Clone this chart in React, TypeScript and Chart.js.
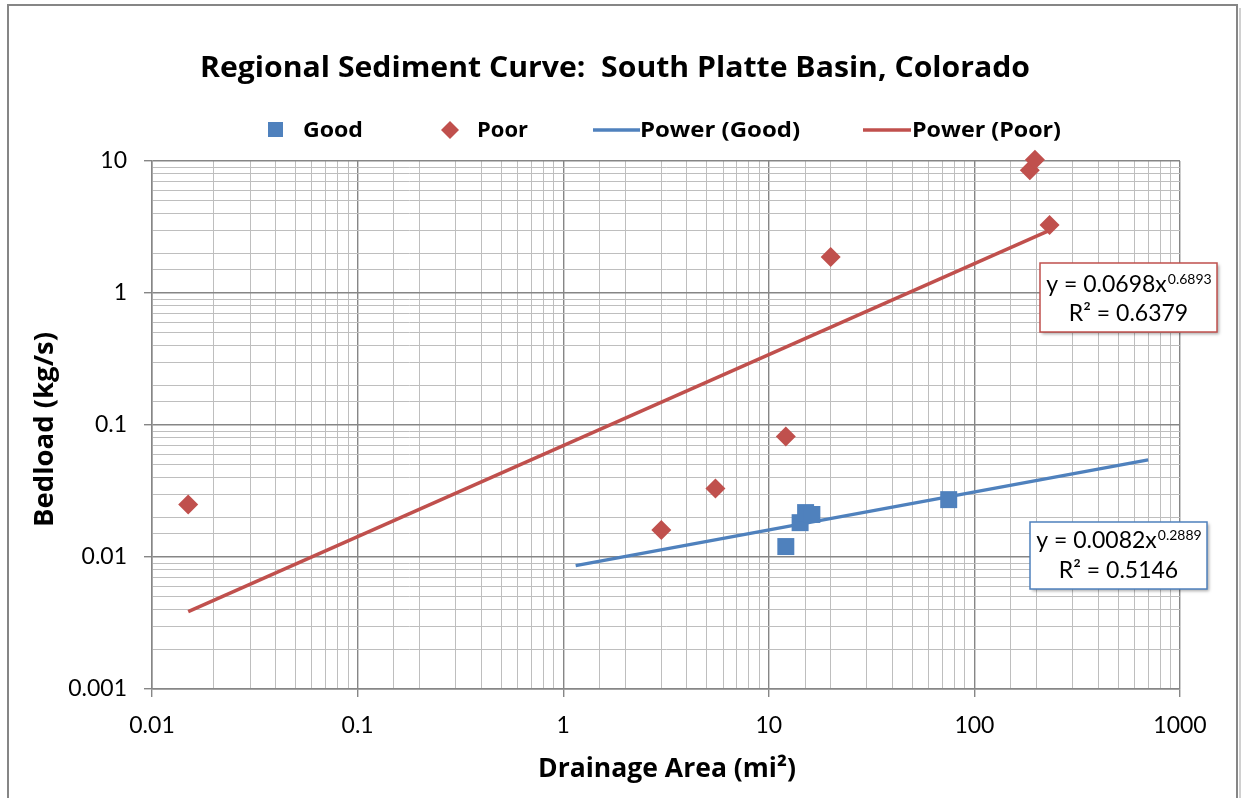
import React, { useEffect, useRef } from 'react';
import { Chart, registerables } from 'chart.js';

Chart.register(...registerables);

const FONT = 'Lato, "Open Sans", "DejaVu Sans", sans-serif';
const BOLD = '"Open Sans", Lato, "DejaVu Sans", sans-serif';

// ---- data ----
const goodX = [12.1, 14.2, 15.1, 16.2, 75];
const goodY = [0.012, 0.0182, 0.0217, 0.021, 0.0272];
const poorX = [0.015, 3.0, 5.5, 12.1, 20, 186, 197, 232];
const poorY = [0.025, 0.016, 0.033, 0.082, 1.87, 8.5, 10.2, 3.27];
const powerGoodX = [1.15, 700];
const powerGoodY = [0.0086, 0.0544];
const powerPoorX = [0.015, 232];
const powerPoorY = [0.00386, 2.98];

const xTickLabels = ['0.01', '0.1', '1', '10', '100', '1000'];
const yTickLabels = ['0.001', '0.01', '0.1', '1', '10'];
const legendLabels = ['Good', 'Poor', 'Power (Good)', 'Power (Poor)'];
const titleText = 'Regional Sediment Curve:  South Platte Basin, Colorado';
const xTitle = 'Drainage Area (mi\u00B2)';
const yTitle = 'Bedload (kg/s)';
const eqPoor = ['y = 0.0698x', '0.6893', 'R\u00B2 = 0.6379'];
const eqGood = ['y = 0.0082x', '0.2889', 'R\u00B2 = 0.5146'];

const BLUE = '#4F81BD';
const RED = '#C0504D';
const MAJOR = '#868686';
const MINOR = '#BEBEBE';

const isMajor = (v: number) => {
  const l = Math.log10(v);
  return Math.abs(l - Math.round(l)) < 1e-6;
};
const zip = (xs: number[], ys: number[]) => xs.map((x, i) => ({ x, y: ys[i] }));

// draw text stretched/squeezed gently to a target width
function fitText(ctx: CanvasRenderingContext2D, text: string, x: number, y: number, target: number, align: 'left' | 'center') {
  const w = ctx.measureText(text).width;
  let s = target / w;
  s = Math.max(0.85, Math.min(1.2, s));
  ctx.save();
  ctx.translate(x, y);
  ctx.scale(s, 1);
  ctx.textAlign = align;
  ctx.fillText(text, 0, 0);
  ctx.restore();
}

function drawEqBox(ctx: CanvasRenderingContext2D, x: number, y: number, w: number, h: number,
  color: string, eq: string[], b1: number, b2: number) {
  ctx.save();
  ctx.shadowColor = 'rgba(0,0,0,0.35)';
  ctx.shadowBlur = 3;
  ctx.shadowOffsetX = 2;
  ctx.shadowOffsetY = 2;
  ctx.fillStyle = '#fff';
  ctx.fillRect(x, y, w, h);
  ctx.restore();
  ctx.save();
  ctx.strokeStyle = color;
  ctx.lineWidth = 1.5;
  ctx.strokeRect(x, y, w, h);
  const cx = x + w / 2;
  ctx.fillStyle = '#000';
  ctx.textBaseline = 'alphabetic';
  ctx.textAlign = 'left';
  ctx.font = `23px ${FONT}`;
  const bw = ctx.measureText(eq[0]).width;
  ctx.font = `14px ${FONT}`;
  const ew = ctx.measureText(eq[1]).width;
  const start = cx - (bw + ew) / 2;
  ctx.font = `23px ${FONT}`;
  ctx.fillText(eq[0], start, b1);
  ctx.font = `14px ${FONT}`;
  ctx.fillText(eq[1], start + bw + 1, b1 - 8);
  ctx.font = `23px ${FONT}`;
  ctx.textAlign = 'center';
  ctx.fillText(eq[2], cx, b2);
  ctx.restore();
}

const decor = {
  id: 'decor',
  beforeDraw(chart: any) {
    const ctx: CanvasRenderingContext2D = chart.ctx;
    ctx.save();
    ctx.fillStyle = '#fff';
    ctx.fillRect(0, 0, chart.width, chart.height);
    ctx.strokeStyle = '#D0D0D0';
    ctx.lineWidth = 2;
    ctx.beginPath();
    ctx.moveTo(1240, 8);
    ctx.lineTo(1240, 800);
    ctx.stroke();
    ctx.strokeStyle = MAJOR;
    ctx.lineWidth = 2;
    ctx.strokeRect(8, 5, 1229, 810);
    ctx.restore();
  },
  afterDraw(chart: any) {
    const ctx: CanvasRenderingContext2D = chart.ctx;
    ctx.save();
    ctx.fillStyle = '#000';
    ctx.textBaseline = 'alphabetic';
    // title
    ctx.font = `bold 28px ${BOLD}`;
    fitText(ctx, titleText, 615, 77, 830, 'center');
    // axis titles
    ctx.font = `bold 26px ${BOLD}`;
    fitText(ctx, xTitle, 667, 777, 258, 'center');
    ctx.save();
    ctx.translate(53, 429.5);
    ctx.rotate(-Math.PI / 2);
    ctx.font = `bold 27px ${BOLD}`;
    fitText(ctx, yTitle, 0, 0, 195, 'center');
    ctx.restore();
    // legend
    ctx.font = `bold 22px ${BOLD}`;
    const ly = 130;
    ctx.fillStyle = BLUE;
    ctx.fillRect(268, ly - 8, 15, 15);
    ctx.fillStyle = '#000';
    fitText(ctx, legendLabels[0], 303, 137, 60, 'left');
    ctx.fillStyle = RED;
    ctx.beginPath();
    ctx.moveTo(450 - 9, ly);
    ctx.lineTo(450, ly - 9);
    ctx.lineTo(450 + 9, ly);
    ctx.lineTo(450, ly + 9);
    ctx.closePath();
    ctx.fill();
    ctx.fillStyle = '#000';
    fitText(ctx, legendLabels[1], 477, 137, 51, 'left');
    ctx.lineWidth = 3.5;
    ctx.strokeStyle = BLUE;
    ctx.beginPath();
    ctx.moveTo(593, ly);
    ctx.lineTo(640, ly);
    ctx.stroke();
    fitText(ctx, legendLabels[2], 640, 137, 160, 'left');
    ctx.strokeStyle = RED;
    ctx.beginPath();
    ctx.moveTo(863, ly);
    ctx.lineTo(911, ly);
    ctx.stroke();
    fitText(ctx, legendLabels[3], 912, 137, 149, 'left');
    ctx.restore();
    // equation boxes
    drawEqBox(ctx, 1040, 263, 177, 69, RED, eqPoor, 292, 321);
    drawEqBox(ctx, 1030, 522, 177, 67, BLUE, eqGood, 548, 578);
  },
};

const gridOpts = {
  color: (c: any) => (c.tick && isMajor(c.tick.value) ? MAJOR : MINOR),
  lineWidth: (c: any) => (c.tick && isMajor(c.tick.value) ? 1.4 : 1),
  tickColor: (c: any) => (c.tick && isMajor(c.tick.value) ? MAJOR : 'rgba(0,0,0,0)'),
  tickLength: 8,
  drawTicks: true,
};

export default function App() {
  const ref = useRef<HTMLCanvasElement>(null);
  useEffect(() => {
    if (!ref.current) return;
    const chart = new Chart(ref.current, {
      type: 'scatter',
      data: {
        datasets: [
          {
            label: legendLabels[0],
            data: zip(goodX, goodY),
            pointStyle: 'rect',
            pointRadius: 12,
            pointHoverRadius: 12,
            backgroundColor: BLUE,
            borderColor: BLUE,
            borderWidth: 0,
            order: 0,
            clip: false,
          },
          {
            label: legendLabels[1],
            data: zip(poorX, poorY),
            pointStyle: 'rectRot',
            pointRadius: 10,
            pointHoverRadius: 10,
            backgroundColor: RED,
            borderColor: RED,
            borderWidth: 0,
            order: 0,
            clip: false,
          },
          {
            label: legendLabels[2],
            data: zip(powerGoodX, powerGoodY),
            showLine: true,
            pointRadius: 0,
            borderColor: BLUE,
            borderWidth: 3.5,
            order: 1,
          },
          {
            label: legendLabels[3],
            data: zip(powerPoorX, powerPoorY),
            showLine: true,
            pointRadius: 0,
            borderColor: RED,
            borderWidth: 3.5,
            order: 1,
          },
        ],
      } as any,
      options: {
        responsive: false,
        animation: false,
        events: [],
        layout: { padding: { top: 161, right: 61, left: 0, bottom: 0 } },
        plugins: {
          legend: { display: false },
          title: { display: false },
          tooltip: { enabled: false },
        },
        scales: {
          x: {
            type: 'logarithmic',
            position: 'bottom',
            min: 0.01,
            max: 1000,
            afterFit: (s: any) => { s.height = 109; },
            grid: gridOpts as any,
            border: { display: true, color: MAJOR, width: 1.5 },
            ticks: {
              autoSkip: false,
              maxRotation: 0,
              minRotation: 0,
              padding: 15,
              color: '#000',
              font: { family: FONT, size: 23 },
              callback: (v: any) => (isMajor(Number(v)) ? xTickLabels[Math.round(Math.log10(Number(v))) + 2] : ''),
            },
            title: { display: false },
          },
          y: {
            type: 'logarithmic',
            position: 'left',
            min: 0.001,
            max: 10,
            afterFit: (s: any) => { s.width = 152; },
            grid: gridOpts as any,
            border: { display: true, color: MAJOR, width: 1.5 },
            ticks: {
              autoSkip: false,
              padding: 17,
              color: '#000',
              font: { family: FONT, size: 23 },
              callback: (v: any) => (isMajor(Number(v)) ? yTickLabels[Math.round(Math.log10(Number(v))) + 3] : ''),
            },
            title: { display: false },
          },
        },
      } as any,
      plugins: [decor],
    });
    return () => chart.destroy();
  }, []);
  return (
    <div style={{ position: 'absolute', left: 0, top: 0, width: 1241, height: 798 }}>
      <canvas ref={ref} width={1241} height={798} style={{ display: 'block', width: 1241, height: 798 }} />
    </div>
  );
}
